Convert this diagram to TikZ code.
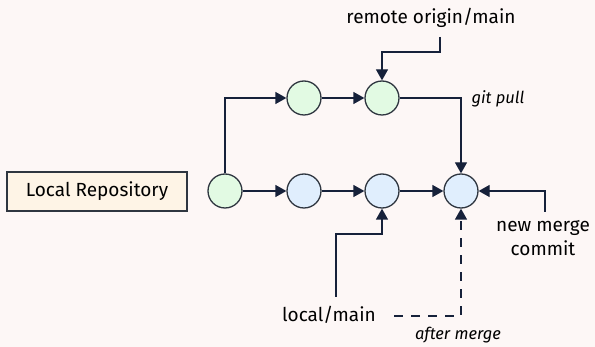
\documentclass[tikz,border=0pt]{standalone}
\usepackage{fontspec}
\setmainfont{Fira Sans}
\usetikzlibrary{arrows.meta}
\definecolor{bg}{HTML}{FDF7F6}
\definecolor{ln}{HTML}{16213A}
\definecolor{bd}{HTML}{2F3640}
\definecolor{gfill}{HTML}{E2FAE3}
\definecolor{bfill}{HTML}{E0EEFD}
\definecolor{boxfill}{HTML}{FEF4E6}
\begin{document}
\begin{tikzpicture}[x=1pt,y=-1pt,
  commit/.style={circle,draw=bd,line width=1.3pt,minimum size=34pt,inner sep=0pt},
  gc/.style={commit,fill=gfill},
  bc/.style={commit,fill=bfill},
  conn/.style={draw=ln,line width=1.3pt,-{Triangle[length=11pt,width=12pt]}},
  lbl/.style={font=\fontsize{19}{24}\selectfont,text=black,inner sep=0pt},
  ilbl/.style={font=\fontsize{16.5}{20}\selectfont\itshape,text=black,inner sep=0pt}]
\fill[bg] (0,0) rectangle (595,347);
\useasboundingbox (0,0) rectangle (595,347);
\node[draw=bd,fill=boxfill,line width=1.3pt,minimum width=180pt,minimum height=39pt,lbl] (repo) at (97,191.5) {Local Repository};
\node[gc] (a) at (225,191) {};
\node[gc] (b) at (304,98) {};
\node[gc] (c) at (382,98) {};
\node[bc] (d) at (304,191) {};
\node[bc] (e) at (382,191) {};
\node[bc] (f) at (461,191) {};
\node[lbl] (remote) at (431,18) {remote origin/main};
\node[lbl,align=center] (newm) at (543,238) {new merge\\commit};
\node[lbl] (local) at (329,315) {local/main};
\node[ilbl] (pull) at (498,99) {git pull};
\node[ilbl] (after) at (458,335) {after merge};
\draw[conn] (a.north) |- (b.west);
\draw[conn] (a.east) -- (d.west);
\draw[conn] (b.east) -- (c.west);
\draw[conn] (d.east) -- (e.west);
\draw[conn] (e.east) -- (f.west);
\draw[conn] (c.east) -| (f.north);
\coordinate (r1) at (440,37);
\draw[conn] (r1) |- (382,52) -- (c.north);
\coordinate (n1) at (545,212);
\draw[conn] (n1) |- (f.east);
\coordinate (l1) at (336,297);
\draw[conn] (l1) |- (382,234) -- (e.south);
\coordinate (l2) at (394,316);
\draw[conn,dash pattern=on 9pt off 8pt] (l2) -| (f.south);
\end{tikzpicture}
\end{document}
